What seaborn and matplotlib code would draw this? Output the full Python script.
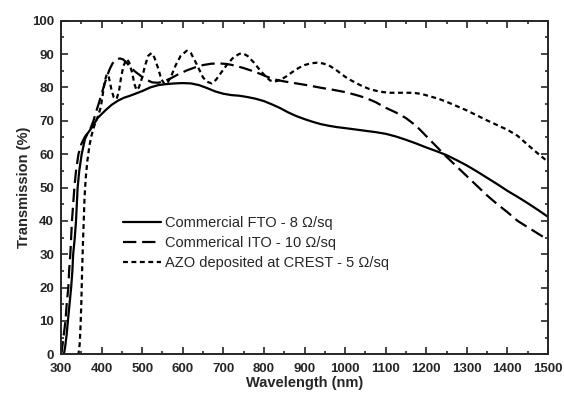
import numpy as np
import pandas as pd
import matplotlib
matplotlib.use("Agg")
import matplotlib.pyplot as plt
import seaborn as sns
from matplotlib.ticker import MultipleLocator

# ---- data ----
fto_wl = [307, 310, 314, 317, 321, 325, 328, 330, 334, 337, 339, 341, 345, 351, 359, 366, 372, 380,
          390, 400, 410, 425, 440, 455, 470, 485, 500, 520, 540, 560, 580, 600, 620, 640, 660, 680,
          700, 720, 740, 760, 780, 800, 820, 840, 860, 880, 900, 920, 940, 960, 980, 1000, 1025,
          1050, 1075, 1100, 1125, 1150, 1175, 1200, 1225, 1250, 1275, 1300, 1325, 1350, 1375,
          1400, 1425, 1450, 1475, 1500]
fto_t = [0, 2, 6, 10, 15, 20, 25, 30, 35, 40, 45, 50, 55, 60, 64.5, 66.3, 67.3, 68.7,
         70.8, 72, 73.2, 74.8, 76, 76.9, 77.5, 78.2, 78.9, 80, 80.7, 81, 81.2, 81.3, 81.2, 80.7, 79.8, 78.8,
         78.1, 77.7, 77.5, 77.1, 76.6, 75.9, 74.9, 73.8, 72.5, 71.4, 70.5, 69.7, 69.0, 68.5, 68.1, 67.8, 67.4,
         67.0, 66.6, 66.1, 65.3, 64.3, 63.2, 62.0, 60.9, 59.7, 58.2, 56.6, 54.8, 52.9, 51.0,
         49.0, 47.2, 45.3, 43.3, 41.2]

ito_wl = [300, 302, 305, 308, 311, 314, 318, 320, 323, 325, 327, 330, 333, 337, 343, 350, 358, 365,
          372, 380, 386, 392, 400, 406, 413, 420, 427, 435, 445, 453, 462, 470, 482, 495, 510, 525,
          540, 555, 570, 590, 610, 630, 650, 670, 690, 710, 730, 750, 770, 790, 810, 830, 850, 870,
          890, 910, 940, 970, 1000, 1025, 1050, 1075, 1100, 1125, 1150, 1175, 1200, 1225, 1250,
          1275, 1300, 1325, 1350, 1375, 1400, 1425, 1450, 1475, 1500]
ito_t = [0, 1, 4, 7, 10, 15, 20, 25, 30, 35, 40, 45, 50, 55, 60, 63, 65, 66.3,
         67.5, 70, 72.5, 74.8, 78, 80.5, 83.2, 85.5, 87.2, 88.3, 88.7, 88.4, 87.4, 86.2, 84.8, 83.6, 82.3, 81.5,
         81.4, 81.9, 82.7, 84, 85.1, 86, 86.7, 87.1, 87.2, 87, 86.5, 85.8, 85, 84.1, 83.1, 82.3, 81.8, 81.4,
         81, 80.6, 79.9, 79.3, 78.6, 77.8, 76.9, 75.6, 73.9, 72.5, 70.8, 68.5, 65.4, 62.3, 59.2,
         56.3, 53.4, 50.5, 47.6, 45, 42.6, 40, 38.1, 36.2, 34.3]

azo_wl = [340, 343, 346, 348, 350, 352, 354, 356, 358, 361, 365, 370, 375, 382, 390, 398, 403, 408,
          413, 418, 424, 430, 437, 443, 448, 454, 462, 468, 475, 481, 486, 492, 500, 507, 515, 523,
          530, 540, 547, 555, 563, 572, 582, 595, 610, 620, 630, 640, 650, 660, 671, 682, 695, 710,
          725, 740, 750, 760, 775, 790, 805, 815, 825, 840, 855, 870, 885, 900, 915, 930, 945, 960,
          975, 988, 1000, 1015, 1037, 1060, 1086, 1110, 1140, 1168, 1190, 1210, 1230, 1250, 1275,
          1300, 1325, 1350, 1375, 1400, 1425, 1450, 1472, 1500]
azo_t = [0, 0, 3, 8, 15, 25, 33, 40, 47, 53, 58, 62.5, 65.5, 68.5, 71, 74, 78, 82,
         84, 83, 79.5, 77, 76.5, 79, 83, 86.5, 88.5, 87.5, 84.5, 81, 79.2, 80, 83, 86.5, 89.5, 90.3,
         89, 85.5, 82.5, 81, 81.5, 83.5, 86.5, 89.5, 91, 90.3, 88, 85.5, 83, 81.7, 81.2, 82.3, 84.5, 87,
         89, 90.1, 90.1, 89.4, 87.5, 85.2, 83.2, 82.1, 81.7, 82.2, 83.3, 84.6, 85.8, 86.7, 87.2, 87.4, 87.2, 86.6,
         85.5, 84.3, 83.2, 82.1, 80.7, 79.5, 78.7, 78.4, 78.4, 78.4, 78, 77.3, 76.6, 75.7, 74.4,
         73.1, 71.6, 70.1, 68.7, 67.3, 65.5, 62.8, 60.5, 57.7]

labels = ["Commercial FTO - 8 \u03a9/sq",
          "Commerical ITO - 10 \u03a9/sq",
          "AZO deposited at CREST - 5 \u03a9/sq"]

x_ticks = list(range(300, 1501, 100))
y_ticks = list(range(0, 101, 10))

# ---- plot ----
sns.set_style("ticks")
plt.rcParams['font.family'] = ['Liberation Sans', 'DejaVu Sans']
plt.rcParams['xtick.direction'] = 'in'
plt.rcParams['ytick.direction'] = 'in'

fig = plt.figure(figsize=(5.64, 3.94), dpi=100)
ax = fig.add_axes([61/564, 1 - 354.3/394, 487/564, (354.3 - 20.7)/394])

series = [
    (fto_wl, fto_t, labels[0], '-'),
    (ito_wl, ito_t, labels[1], (0, (6, 2.6))),
    (azo_wl, azo_t, labels[2], (0, (2.2, 1.6))),
]
for wl, t, lab, ls in series:
    df = pd.DataFrame({"Wavelength": wl, "T": t})
    sns.lineplot(data=df, x="Wavelength", y="T", ax=ax, color="black",
                 linewidth=1.6, linestyle=ls, label=lab, estimator=None)

ax.set_xlim(300, 1500)
ax.set_ylim(0, 100)
ax.set_xticks(x_ticks)
ax.set_yticks(y_ticks)
ax.xaxis.set_minor_locator(MultipleLocator(50))
ax.yaxis.set_minor_locator(MultipleLocator(5))
ax.tick_params(which='both', direction='in', top=True, right=True, width=1.2)
ax.tick_params(which='major', length=5, labelsize=9.5)
ax.tick_params(axis='x', which='major', pad=6)
ax.tick_params(axis='y', which='major', pad=5)
ax.tick_params(which='minor', length=2.5)
for lbl in ax.get_xticklabels() + ax.get_yticklabels():
    lbl.set_fontweight('bold')
for s in ax.spines.values():
    s.set_linewidth(1.4)
    s.set_visible(True)

ax.set_xlabel("Wavelength (nm)", fontsize=10.5, fontweight='bold', labelpad=1)
ax.set_ylabel("Transmission (%)", fontsize=10.5, fontweight='bold', labelpad=1)

leg = ax.legend(loc='upper left', bbox_to_anchor=(0.115, 0.432), frameon=False,
                fontsize=10.5, handlelength=2.6, handletextpad=0.3, labelspacing=0.4,
                borderaxespad=0)

fig.savefig("out.png", dpi=100)
